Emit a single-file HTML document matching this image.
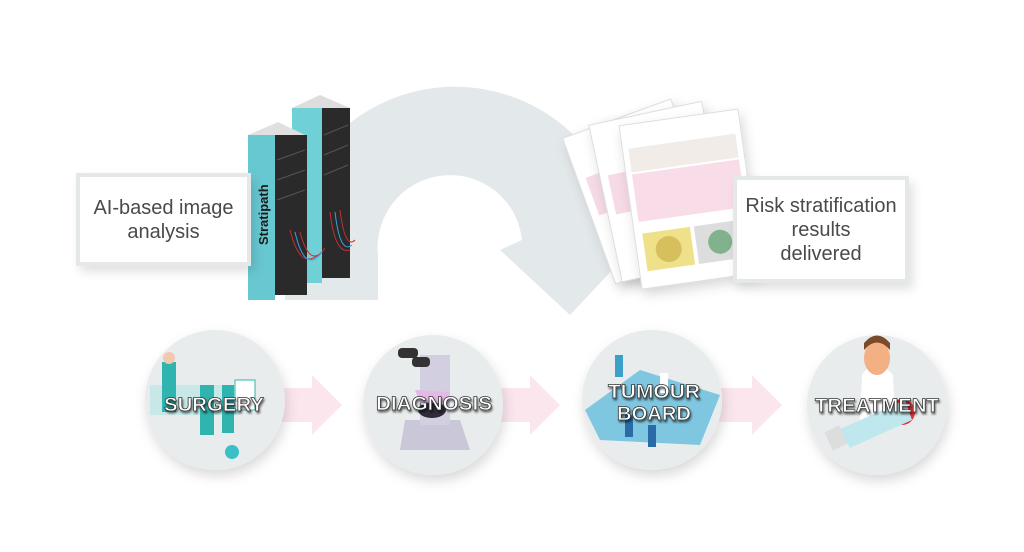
<!DOCTYPE html>
<html><head><style>
html,body{margin:0;padding:0;background:#fff;}
body{width:1024px;height:552px;position:relative;overflow:hidden;font-family:"Liberation Sans",sans-serif;}
.box{position:absolute;background:#fff;border:4px solid #e4e8e9;box-shadow:4px 6px 10px rgba(0,0,0,0.12);color:#4a4a4a;font-size:20px;text-align:center;line-height:24px;display:flex;align-items:center;justify-content:center;}
.lbl{font-family:"Liberation Sans",sans-serif;font-weight:bold;fill:#fff;stroke:#333;stroke-width:0.7;font-size:19px;}
</style></head><body>
<svg width="1024" height="552" style="position:absolute;left:0;top:0">
<defs>
<filter id="sh" x="-30%" y="-30%" width="160%" height="160%"><feDropShadow dx="2" dy="6" stdDeviation="6" flood-opacity="0.15"/></filter>
<filter id="ts"><feDropShadow dx="1" dy="2" stdDeviation="1" flood-opacity="0.6"/></filter>
</defs>
<path d="M285,300 L285,255 A170,170 0 0 1 622,225 L645,235 L570,315 L500,250 L522,240 A72,72 0 0 0 378,255 L378,300 Z" fill="#e3e8ea"/>
<g fill="#fce6ee">
<path d="M272,388 L312,388 L312,375 L342,405 L312,435 L312,422 L272,422 Z"/>
<path d="M492,388 L530,388 L530,375 L560,405 L530,435 L530,422 L492,422 Z"/>
<path d="M712,388 L752,388 L752,375 L782,405 L752,435 L752,422 L712,422 Z"/>
</g>
<g fill="#e9ecec" filter="url(#sh)">
<circle cx="215" cy="400" r="70"/>
<circle cx="433" cy="405" r="70"/>
<circle cx="652" cy="400" r="70"/>
<circle cx="877" cy="405" r="70"/>
</g>
<g>
<rect x="150" y="385" width="90" height="30" fill="#bfe6e6" opacity="0.8"/>
<rect x="162" y="362" width="14" height="50" fill="#2fb4b0"/>
<rect x="200" y="385" width="14" height="50" fill="#2fb4b0"/>
<rect x="222" y="385" width="12" height="48" fill="#2fb4b0"/>
<circle cx="169" cy="358" r="6" fill="#f2c9b0"/>
<circle cx="232" cy="452" r="7" fill="#3cc0c8"/>
<rect x="235" y="380" width="20" height="30" fill="#fff" stroke="#2fb4b0"/>
</g>
<g>
<polygon points="405,420 460,420 470,450 400,450" fill="#c9c7d8"/>
<rect x="420" y="355" width="30" height="70" fill="#d2d0e0"/>
<rect x="398" y="348" width="20" height="10" rx="4" fill="#333"/>
<rect x="412" y="357" width="18" height="10" rx="4" fill="#333"/>
<ellipse cx="432" cy="410" rx="14" ry="8" fill="#2d2d3a"/>
<polygon points="415,390 450,392 445,404 420,402" fill="#e6b8e6"/>
</g>
<g>
<polygon points="585,410 640,370 720,395 700,445 600,440" fill="#7fc6e0"/>
<rect x="615" y="355" width="8" height="22" fill="#3aa0c8"/>
<rect x="625" y="415" width="8" height="22" fill="#2a6aa8"/>
<rect x="648" y="425" width="8" height="22" fill="#2a6aa8"/>
<rect x="660" y="373" width="8" height="20" fill="#fff"/>
</g>
<g>
<path d="M862,375 Q875,355 893,375 L895,420 L860,420 Z" fill="#fff"/>
<ellipse cx="877" cy="358" rx="13" ry="17" fill="#f2b083"/>
<path d="M864,350 Q877,335 890,350 L890,343 Q877,328 864,343Z" fill="#7a4a2a"/>
<circle cx="902" cy="412" r="13" fill="#e8303a"/>
<polygon points="838,430 905,400 912,420 850,448" fill="#bfe8ee"/>
<rect x="828" y="428" width="16" height="20" fill="#ddd" transform="rotate(-25 836 438)"/>
</g>
<g filter="url(#ts)">
<text class="lbl" x="214" y="411" text-anchor="middle" textLength="100" lengthAdjust="spacingAndGlyphs">SURGERY</text>
<text class="lbl" x="434" y="410" text-anchor="middle" textLength="116" lengthAdjust="spacingAndGlyphs">DIAGNOSIS</text>
<text class="lbl" x="654" y="398" text-anchor="middle" textLength="92" lengthAdjust="spacingAndGlyphs">TUMOUR</text>
<text class="lbl" x="654" y="420" text-anchor="middle" textLength="74" lengthAdjust="spacingAndGlyphs">BOARD</text>
<text class="lbl" x="877" y="412" text-anchor="middle" textLength="124" lengthAdjust="spacingAndGlyphs">TREATMENT</text>
</g>
<g>
<g transform="rotate(-20 640 190)"><rect x="585" y="115" width="115" height="155" fill="#fff" stroke="#ddd" filter="url(#sh)"/><rect x="593" y="160" width="100" height="40" fill="#f6dbe6"/></g>
<g transform="rotate(-12 660 195)"><rect x="605" y="112" width="115" height="160" fill="#fff" stroke="#ddd" filter="url(#sh)"/><rect x="613" y="165" width="100" height="40" fill="#f6dbe6"/></g>
<g transform="rotate(-8 680 200)"><rect x="630" y="118" width="120" height="165" fill="#fff" stroke="#ddd" filter="url(#sh)"/>
<rect x="636" y="142" width="108" height="24" fill="#f1ece8"/>
<rect x="636" y="168" width="108" height="48" fill="#f8dde8"/>
<rect x="638" y="228" width="48" height="38" fill="#efe08a"/>
<rect x="690" y="228" width="48" height="38" fill="#ddd"/>
<circle cx="714" cy="247" r="12" fill="#5aa06a" opacity="0.7"/>
<circle cx="662" cy="247" r="13" fill="#c8a840" opacity="0.6"/></g>
</g>
<g>
<polygon points="292,108 320,95 350,108 322,121" fill="#ddd"/>
<rect x="292" y="108" width="30" height="175" fill="#6fd0d8"/>
<rect x="322" y="108" width="28" height="170" fill="#2a2a2a"/>
<polygon points="248,135 278,122 305,135 275,148" fill="#e0e0e0"/>
<rect x="248" y="135" width="27" height="165" fill="#68c8d2"/>
<rect x="275" y="135" width="32" height="160" fill="#2a2a2a"/>
<g stroke="#555" stroke-width="1">
<line x1="277" y1="160" x2="305" y2="150"/><line x1="277" y1="180" x2="305" y2="170"/><line x1="277" y1="200" x2="305" y2="190"/>
<line x1="324" y1="135" x2="348" y2="125"/><line x1="324" y1="155" x2="348" y2="145"/><line x1="324" y1="175" x2="348" y2="165"/>
</g>
<path d="M290,230 Q300,270 318,255 M300,232 Q310,270 325,248 M340,210 Q345,250 355,240 M330,212 Q335,255 350,250" stroke="#c03030" fill="none"/>
<path d="M295,232 Q305,275 322,252 M335,212 Q340,255 352,245" stroke="#3aa0e0" fill="none"/>
<text x="0" y="0" transform="translate(268,245) rotate(-90)" font-size="13" font-weight="bold" fill="#1a1a1a" font-family="Liberation Sans, sans-serif">Stratipath</text>
</g>
</svg>
<div class="box" style="left:76px;top:173px;width:167px;height:85px;">AI-based image<br>analysis</div>
<div class="box" style="left:733px;top:176px;width:168px;height:99px;">Risk stratification<br>results<br>delivered</div>
</body></html>
